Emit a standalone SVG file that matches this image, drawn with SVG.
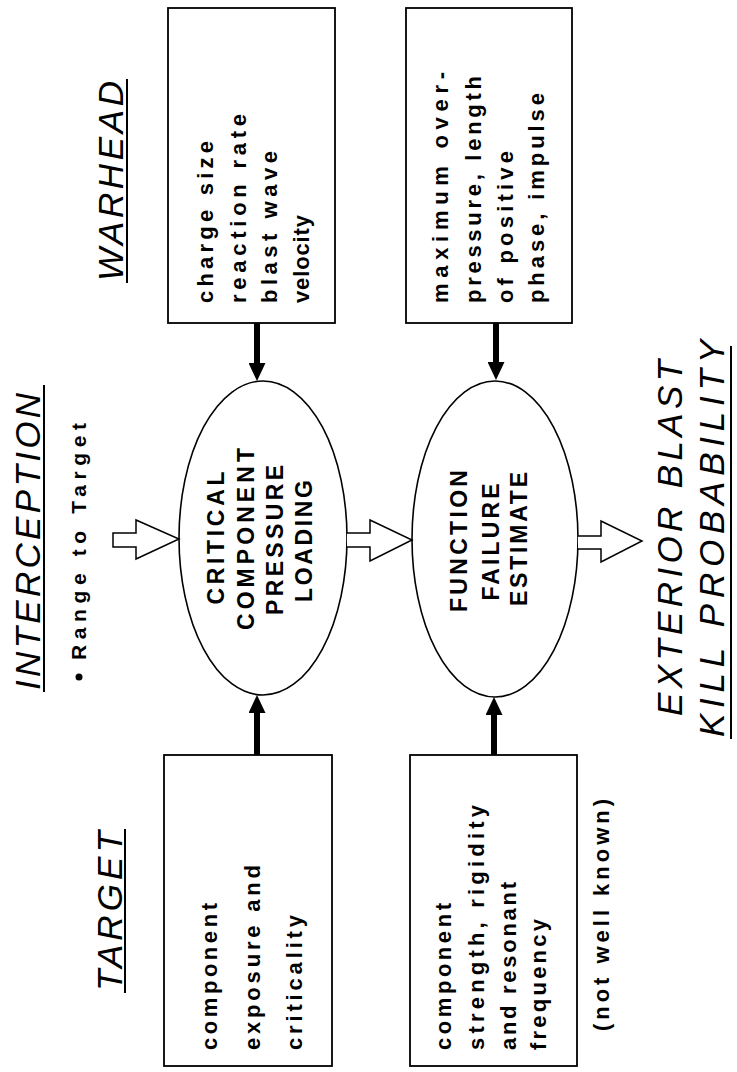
<svg xmlns="http://www.w3.org/2000/svg" width="737" height="1072" viewBox="0 0 737 1072">
<style>
  .box{fill:#fff;stroke:#000;stroke-width:1.8}
  .ell{fill:#fff;stroke:#000;stroke-width:1.6}
  .t{font-family:"Liberation Sans",Arial,sans-serif;font-weight:bold;font-size:22px;fill:#000}
  .r{font-size:21px}
  .e{font-family:"Liberation Sans",Arial,sans-serif;font-weight:bold;font-size:23px;fill:#000;text-anchor:middle}
  .h{font-family:"Liberation Sans",Arial,sans-serif;font-style:italic;font-size:35px;fill:#000}
  .ul{stroke:#000;stroke-width:2}
  .solid{stroke:#000;stroke-width:6;fill:none}
  .hollow{fill:#fff;stroke:#000;stroke-width:1.5;stroke-linejoin:miter}
</style>
<defs>
  <marker id="ah" markerUnits="userSpaceOnUse" markerWidth="18" markerHeight="17" viewBox="0 0 18 17" refX="0" refY="8.5" orient="auto">
    <path d="M0,0 L18,8.5 L0,17 Z" fill="#000"/>
  </marker>
</defs>
<rect width="737" height="1072" fill="#fff"/>

<g id="headings">
  <text class="h" transform="translate(40,690) rotate(-90)" textLength="297" lengthAdjust="spacing">INTERCEPTION</text>
  <line class="ul" x1="44" y1="692" x2="44" y2="385"/>
  <circle cx="79" cy="677" r="3.5" fill="#000"/>
  <text class="t r" transform="translate(86,660) rotate(-90)" textLength="237" lengthAdjust="spacing">Range to Target</text>
  <text class="h" transform="translate(123,281) rotate(-90)" textLength="200" lengthAdjust="spacing">WARHEAD</text>
  <line class="ul" x1="127" y1="283" x2="127" y2="79"/>
  <text class="h" transform="translate(122,991) rotate(-90)" textLength="160" lengthAdjust="spacing">TARGET</text>
  <line class="ul" x1="125" y1="993" x2="125" y2="829"/>
  <text class="h" transform="translate(682,716) rotate(-90)" textLength="356" lengthAdjust="spacing">EXTERIOR BLAST</text>
  <text class="h" transform="translate(724,737) rotate(-90)" textLength="397" lengthAdjust="spacing">KILL PROBABILITY</text>
  <line class="ul" x1="731" y1="739" x2="731" y2="346"/>
</g>

<g id="warhead-box">
  <rect class="box" x="168" y="8" width="167" height="315"/>
  <text class="t" transform="translate(213,303) rotate(-90)" textLength="162" lengthAdjust="spacing">charge size</text>
  <text class="t" transform="translate(246,303) rotate(-90)" textLength="189" lengthAdjust="spacing">reaction rate</text>
  <text class="t" transform="translate(277,303) rotate(-90)" textLength="152" lengthAdjust="spacing">blast wave</text>
  <text class="t" transform="translate(309,303) rotate(-90)" textLength="88" lengthAdjust="spacing">velocity</text>
</g>

<g id="blast-box">
  <rect class="box" x="406" y="8" width="166" height="315"/>
  <text class="t" transform="translate(448,303) rotate(-90)" textLength="231" lengthAdjust="spacing">maximum over-</text>
  <text class="t" transform="translate(481,303) rotate(-90)" textLength="227" lengthAdjust="spacing">pressure, length</text>
  <text class="t" transform="translate(513,303) rotate(-90)" textLength="152" lengthAdjust="spacing">of positive</text>
  <text class="t" transform="translate(544,303) rotate(-90)" textLength="210" lengthAdjust="spacing">phase, impulse</text>
</g>

<g id="target-box">
  <rect class="box" x="164" y="755" width="168" height="311"/>
  <text class="t" transform="translate(217,1050) rotate(-90)" textLength="147" lengthAdjust="spacing">component</text>
  <text class="t" transform="translate(260,1050) rotate(-90)" textLength="185" lengthAdjust="spacing">exposure and</text>
  <text class="t" transform="translate(302,1050) rotate(-90)" textLength="135" lengthAdjust="spacing">criticality</text>
</g>

<g id="strength-box">
  <rect class="box" x="410" y="755" width="167" height="311"/>
  <text class="t" transform="translate(451,1050) rotate(-90)" textLength="147" lengthAdjust="spacing">component</text>
  <text class="t" transform="translate(484,1050) rotate(-90)" textLength="245" lengthAdjust="spacing">strength, rigidity</text>
  <text class="t" transform="translate(516,1050) rotate(-90)" textLength="168" lengthAdjust="spacing">and resonant</text>
  <text class="t" transform="translate(546,1050) rotate(-90)" textLength="131" lengthAdjust="spacing">frequency</text>
</g>

<g id="not-well-known">
  <text class="t" transform="translate(609,1031) rotate(-90)" textLength="232" lengthAdjust="spacing">(not well known)</text>
</g>

<g id="pressure-loading">
  <ellipse class="ell" cx="263" cy="538" rx="84" ry="157"/>
  <text class="e" transform="translate(224,538) rotate(-90)" textLength="133" lengthAdjust="spacing">CRITICAL</text>
  <text class="e" transform="translate(254,539) rotate(-90)" textLength="182" lengthAdjust="spacing">COMPONENT</text>
  <text class="e" transform="translate(283,540) rotate(-90)" textLength="150" lengthAdjust="spacing">PRESSURE</text>
  <text class="e" transform="translate(312,541) rotate(-90)" textLength="122" lengthAdjust="spacing">LOADING</text>
</g>

<g id="failure-estimate">
  <ellipse class="ell" cx="495" cy="539" rx="83" ry="158"/>
  <text class="e" transform="translate(467,541) rotate(-90)" textLength="142" lengthAdjust="spacing">FUNCTION</text>
  <text class="e" transform="translate(499,542) rotate(-90)" textLength="117" lengthAdjust="spacing">FAILURE</text>
  <text class="e" transform="translate(527,539) rotate(-90)" textLength="134" lengthAdjust="spacing">ESTIMATE</text>
</g>

<g id="connectors">
  <line class="solid" x1="257" y1="323" x2="257" y2="363" marker-end="url(#ah)"/>
  <line class="solid" x1="257" y1="755" x2="257" y2="713" marker-end="url(#ah)"/>
  <line class="solid" x1="496" y1="323" x2="496" y2="362" marker-end="url(#ah)"/>
  <line class="solid" x1="494" y1="755" x2="494" y2="715" marker-end="url(#ah)"/>
  <path class="hollow" d="M113,533 L136,533 L136,520 L179,539 L136,559 L136,547 L113,547 Z"/>
  <path class="hollow" d="M347,533 L370,533 L370,520 L412,540 L370,561 L370,547 L347,547"/>
  <path class="hollow" d="M578,536 L601,536 L601,521 L642,541 L601,562 L601,549 L578,549"/>
</g>
</svg>
